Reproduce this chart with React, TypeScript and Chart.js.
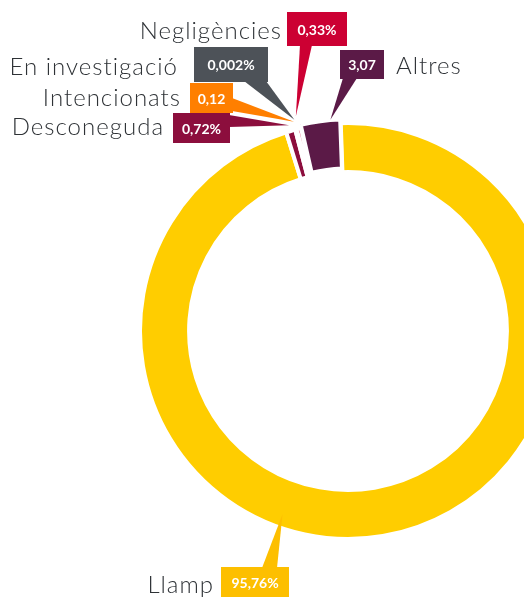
import React, { useEffect, useRef } from 'react';
import { Chart, registerables } from 'chart.js';

Chart.register(...registerables);

// ---- data ----
const categories = ['Llamp', 'Desconeguda', 'Intencionats', 'En investigació', 'Negligències', 'Altres'];
const values = [95.76, 0.72, 0.12, 0.002, 0.33, 3.07];
const valueLabels = ['95,76%', '0,72%', '0,12', '0,002%', '0,33%', '3,07'];

// ---- styles ----
const sliceColors = ['#FFCD00', '#8C0E3D', '#FF7F00', '#4D5258', '#CC0033', '#5B1A47'];
const boxColors = ['#FDBF00', '#8C0E3D', '#FF7F00', '#4D5258', '#CC0033', '#5B1A47'];
const sliceOffsets = [0, 0, 0, 0, 0, 8];

// ---- callout layout (annotation boxes) ----
type Callout = {
  box: [number, number, number, number];
  base: [string, number, number];
  t: number;
  mid: boolean;
  dr: number;
  labelX: number;
  labelY: number;
  align: CanvasTextAlign;
};
const callouts: Callout[] = [
  { box: [221, 567, 68, 30], base: ['top', 41, 56], t: 0.585, mid: true, dr: 11, labelX: 213, labelY: 593, align: 'right' },
  { box: [173, 113, 57, 30], base: ['right', 2, 14], t: 0.5, mid: false, dr: 6, labelX: 163, labelY: 135, align: 'right' },
  { box: [190, 83, 43, 30], base: ['right', 15, 28], t: 0.5, mid: false, dr: 8, labelX: 180, labelY: 106, align: 'right' },
  { box: [194, 47, 74, 35], base: ['bottom', 50, 72], t: 0.5, mid: false, dr: 10, labelX: 177, labelY: 75, align: 'right' },
  { box: [287, 12, 60, 34], base: ['bottom', 13, 25], t: 0.5, mid: false, dr: 13, labelX: 281, labelY: 39, align: 'right' },
  { box: [340, 50, 44, 29], base: ['bottom', 3, 17], t: 0.75, mid: false, dr: 4, labelX: 396, labelY: 74, align: 'left' },
];

const calloutPlugin = {
  id: 'callouts',
  afterDatasetsDraw(chart: any) {
    const ctx: any = chart.ctx;
    const meta = chart.getDatasetMeta(0);
    ctx.save();
    callouts.forEach((c, i) => {
      const arc = meta.data[i];
      if (!arc) return;
      const p = arc.getProps(['x', 'y', 'startAngle', 'endAngle', 'innerRadius', 'outerRadius'], true);
      const a = p.startAngle + (p.endAngle - p.startAngle) * c.t;
      const rr = c.mid ? (p.innerRadius + p.outerRadius) / 2 + c.dr : p.outerRadius + c.dr;
      const tx = p.x + Math.cos(a) * rr;
      const ty = p.y + Math.sin(a) * rr;
      const [bx, by, bw, bh] = c.box;
      let p1: [number, number];
      let p2: [number, number];
      if (c.base[0] === 'top') {
        p1 = [bx + c.base[1], by + 1];
        p2 = [bx + c.base[2], by + 1];
      } else if (c.base[0] === 'bottom') {
        p1 = [bx + c.base[1], by + bh - 1];
        p2 = [bx + c.base[2], by + bh - 1];
      } else {
        p1 = [bx + bw - 1, by + c.base[1]];
        p2 = [bx + bw - 1, by + c.base[2]];
      }
      ctx.fillStyle = boxColors[i];
      ctx.beginPath();
      ctx.moveTo(p1[0], p1[1]);
      ctx.lineTo(tx, ty);
      ctx.lineTo(p2[0], p2[1]);
      ctx.closePath();
      ctx.fill();
      ctx.fillRect(bx, by, bw, bh);

      ctx.fillStyle = '#FFFFFF';
      ctx.letterSpacing = '0px';
      ctx.font = 'bold 14px Lato, "Open Sans", sans-serif';
      ctx.textAlign = 'center';
      ctx.textBaseline = 'middle';
      ctx.fillText(valueLabels[i], bx + bw / 2, by + bh / 2 + 1);

      ctx.fillStyle = '#2E3236';
      ctx.letterSpacing = '1px';
      ctx.font = '300 24px Lato, "Open Sans", sans-serif';
      ctx.textAlign = c.align;
      ctx.textBaseline = 'alphabetic';
      ctx.fillText(categories[i], c.labelX + (c.align === 'right' ? 1 : 0), c.labelY);
    });
    ctx.restore();
  },
};

export default function App() {
  const ref = useRef<HTMLCanvasElement | null>(null);
  useEffect(() => {
    if (!ref.current) return;
    const chart = new Chart(ref.current, {
      type: 'doughnut',
      data: {
        labels: categories,
        datasets: [
          {
            data: values,
            backgroundColor: sliceColors,
            borderColor: '#FFFFFF',
            borderWidth: 4,
            offset: sliceOffsets,
            hoverOffset: 0,
            clip: false as any,
          } as any,
        ],
      },
      options: {
        responsive: false,
        animation: false,
        rotation: -2,
        radius: 208,
        cutout: '76.4%',
        layout: { padding: { left: 172, top: 65, right: 0, bottom: 0 } },
        events: [],
        plugins: {
          legend: { display: false },
          tooltip: { enabled: false },
        },
      } as any,
      plugins: [calloutPlugin],
    });
    return () => chart.destroy();
  }, []);
  return (
    <div style={{ position: 'absolute', left: 0, top: 0, width: 524, height: 597, background: '#fff' }}>
      <canvas ref={ref} width={524} height={597} style={{ display: 'block', width: 524, height: 597 }} />
    </div>
  );
}
